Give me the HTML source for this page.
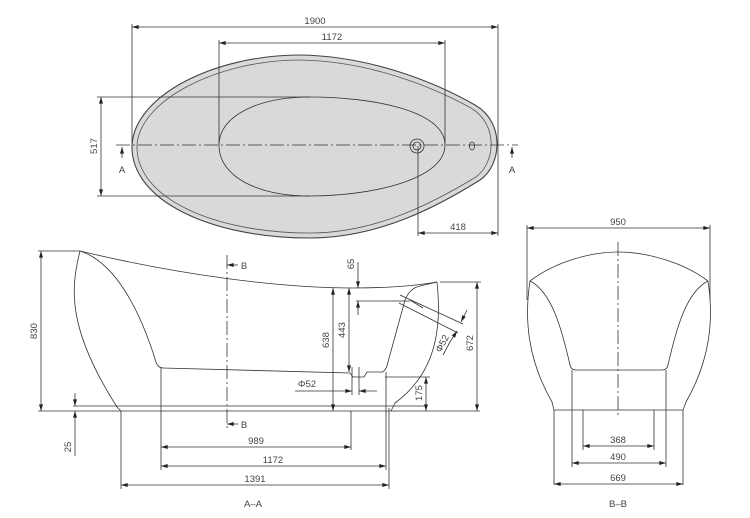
<!DOCTYPE html>
<html><head><meta charset="utf-8"><style>
html,body{margin:0;padding:0;background:#fff;}
svg{display:block;}
text{font-family:"Liberation Sans Narrow","Liberation Sans",sans-serif;font-size:9.5px;fill:#444;}
</style></head><body>
<svg width="750" height="518" viewBox="0 0 750 518" xmlns="http://www.w3.org/2000/svg">
<defs>
<marker id="a" viewBox="0 0 10 6" refX="10" refY="3" markerWidth="8" markerHeight="4" orient="auto-start-reverse" markerUnits="userSpaceOnUse"><path d="M0,0L10,3L0,6z" fill="#222"/></marker>
</defs>
<g stroke="#333" stroke-width="0.8" fill="none">
<!-- TOP VIEW -->
<path d="M132,145 C135,95 215,55 300,55 C370,56 435,82 475,105 C505,122 502,165 480,180 C440,205 380,238 310,238 C210,238 130,200 132,145 Z" fill="#d9d9d9" stroke="#444" stroke-width="1.1"/>
<path d="M137,145 C140,100 218,60 300,60 C368,61 431,86 471,108 C498,124 496,162 476,177 C436,201 378,233 310,233 C214,233 135,198 137,145 Z" fill="none" stroke="#555"/>
<path d="M219,145 C219,115 260,97 310,97 C370,97 445,110 445,145 C445,180 370,196 310,196 C260,196 219,178 219,145 Z" fill="#d9d9d9"/>
<circle cx="417" cy="146" r="7" fill="#d9d9d9"/><circle cx="417" cy="146" r="4"/>
<ellipse cx="472" cy="146" rx="2.5" ry="4"/>
<line x1="116" y1="145" x2="518" y2="145" stroke-dasharray="14,3,2,3"/>
<line x1="132" y1="24" x2="132" y2="145"/><line x1="498" y1="24" x2="498" y2="145"/>
<line x1="132" y1="27" x2="498" y2="27" marker-start="url(#a)" marker-end="url(#a)"/>
<line x1="219" y1="40" x2="219" y2="145"/><line x1="445" y1="40" x2="445" y2="145"/>
<line x1="219" y1="43" x2="445" y2="43" marker-start="url(#a)" marker-end="url(#a)"/>
<line x1="97" y1="97" x2="310" y2="97"/><line x1="97" y1="196" x2="310" y2="196"/>
<line x1="101" y1="97" x2="101" y2="196" marker-start="url(#a)" marker-end="url(#a)"/>
<line x1="418" y1="146" x2="418" y2="236"/><line x1="498" y1="145" x2="498" y2="236"/>
<line x1="418" y1="233" x2="498" y2="233" marker-start="url(#a)" marker-end="url(#a)"/>
<line x1="122" y1="158" x2="122" y2="147" marker-end="url(#a)"/>
<line x1="512" y1="158" x2="512" y2="147" marker-end="url(#a)"/>
<!-- SIDE VIEW A-A -->
<path d="M80,251 C70,290 68,330 117,407 L121,411"/>
<path d="M80,251 C115,262 140,310 156,362 Q158,368 163,368 L350,373 L353,377 L364,377 L367,372 L382,372 Q386,371 388,362 L405,300 Q410,288 420,286 L437,282"/>
<path d="M80,251 C180,275 280,288 353,288 C390,288 420,285 437,282"/>
<path d="M437,282 C441,320 440,370 395,403 L391,411"/>
<line x1="38" y1="411" x2="480" y2="411"/>
<line x1="73" y1="406" x2="427" y2="406"/>
<line x1="38" y1="251" x2="80" y2="251"/>
<line x1="41" y1="251" x2="41" y2="411" marker-start="url(#a)" marker-end="url(#a)"/>
<line x1="75" y1="393" x2="75" y2="406" marker-end="url(#a)"/>
<line x1="75" y1="424" x2="75" y2="411" marker-end="url(#a)"/>
<line x1="75" y1="424" x2="75" y2="456"/>
<line x1="227" y1="255" x2="227" y2="428" stroke-dasharray="14,3,2,3"/>
<line x1="238" y1="265" x2="227" y2="265" marker-end="url(#a)"/>
<line x1="238" y1="424" x2="227" y2="424" marker-end="url(#a)"/>
<line x1="161" y1="368" x2="161" y2="470"/>
<line x1="121" y1="411" x2="121" y2="489"/>
<line x1="389" y1="408" x2="389" y2="489"/>
<line x1="386" y1="372" x2="386" y2="470"/>
<line x1="351" y1="411" x2="351" y2="450"/>
<line x1="161" y1="447" x2="351" y2="447" marker-start="url(#a)" marker-end="url(#a)"/>
<line x1="161" y1="466" x2="386" y2="466" marker-start="url(#a)" marker-end="url(#a)"/>
<line x1="121" y1="485" x2="389" y2="485" marker-start="url(#a)" marker-end="url(#a)"/>
<line x1="358" y1="262" x2="358" y2="288" marker-end="url(#a)"/>
<line x1="358" y1="315" x2="358" y2="301" marker-end="url(#a)"/>
<line x1="356" y1="301" x2="410" y2="301"/>
<line x1="333" y1="288" x2="333" y2="411" marker-start="url(#a)" marker-end="url(#a)"/>
<line x1="349" y1="288" x2="349" y2="372" marker-start="url(#a)" marker-end="url(#a)"/>
<line x1="352" y1="367" x2="352" y2="395"/><line x1="359" y1="367" x2="359" y2="395"/>
<line x1="295" y1="391" x2="352" y2="391" marker-end="url(#a)"/>
<line x1="377" y1="391" x2="359" y2="391" marker-end="url(#a)"/>
<line x1="385" y1="377" x2="430" y2="377"/>
<line x1="426" y1="377" x2="426" y2="411" marker-start="url(#a)" marker-end="url(#a)"/>
<line x1="440" y1="282" x2="481" y2="282"/>
<line x1="477" y1="282" x2="477" y2="411" marker-start="url(#a)" marker-end="url(#a)"/>
<line x1="400" y1="295" x2="463" y2="324"/>
<line x1="399" y1="303" x2="458" y2="333"/>
<line x1="410" y1="300" x2="423" y2="308"/>
<line x1="467" y1="310" x2="461" y2="322" marker-end="url(#a)"/>
<line x1="450" y1="342" x2="457" y2="331" marker-end="url(#a)"/>
<line x1="443" y1="355" x2="450" y2="342"/>
<!-- B-B -->
<path d="M530,281 C555,262 590,252 618,252 C646,252 683,262 708,281"/>
<path d="M530,281 C524,320 528,360 552,402 L554,410 L554,485"/>
<path d="M708,281 C714,320 710,360 686,402 L683,410 L683,485"/>
<path d="M530,281 C552,292 562,330 570,365 Q571,370 576,370 L662,370 Q667,370 668,365 C676,330 686,292 708,281"/>
<line x1="554" y1="410" x2="683" y2="410"/>
<line x1="572" y1="370" x2="572" y2="467"/><line x1="666" y1="370" x2="666" y2="467"/>
<line x1="583" y1="410" x2="583" y2="450"/><line x1="654" y1="410" x2="654" y2="450"/>
<line x1="618" y1="242" x2="618" y2="415" stroke-dasharray="14,3,2,3"/>
<line x1="527" y1="225" x2="527" y2="300"/><line x1="710" y1="225" x2="710" y2="300"/>
<line x1="527" y1="228" x2="710" y2="228" marker-start="url(#a)" marker-end="url(#a)"/>
<line x1="583" y1="446" x2="654" y2="446" marker-start="url(#a)" marker-end="url(#a)"/>
<line x1="572" y1="463" x2="666" y2="463" marker-start="url(#a)" marker-end="url(#a)"/>
<line x1="554" y1="484" x2="683" y2="484" marker-start="url(#a)" marker-end="url(#a)"/>
</g>
<g>
<text x="315" y="24" text-anchor="middle">1900</text>
<text x="332" y="40" text-anchor="middle">1172</text>
<text x="97" y="146" text-anchor="middle" transform="rotate(-90 97 146)">517</text>
<text x="122" y="173" text-anchor="middle">A</text>
<text x="512" y="173" text-anchor="middle">A</text>
<text x="458" y="230" text-anchor="middle">418</text>
<text x="37" y="331" text-anchor="middle" transform="rotate(-90 37 331)">830</text>
<text x="71" y="447" text-anchor="middle" transform="rotate(-90 71 447)">25</text>
<text x="244" y="269" text-anchor="middle">B</text>
<text x="244" y="428" text-anchor="middle">B</text>
<text x="354" y="264" text-anchor="middle" transform="rotate(-90 354 264)">65</text>
<text x="329" y="340" text-anchor="middle" transform="rotate(-90 329 340)">638</text>
<text x="345" y="330" text-anchor="middle" transform="rotate(-90 345 330)">443</text>
<text x="307" y="387" text-anchor="middle">Φ52</text>
<text x="422" y="393" text-anchor="middle" transform="rotate(-90 422 393)">175</text>
<text x="473" y="343" text-anchor="middle" transform="rotate(-90 473 343)">672</text>
<text x="445" y="345" text-anchor="middle" transform="rotate(-62 445 345)">Φ52</text>
<text x="256" y="444" text-anchor="middle">989</text>
<text x="273" y="463" text-anchor="middle">1172</text>
<text x="255" y="482" text-anchor="middle">1391</text>
<text x="253" y="507" text-anchor="middle" font-size="11">A–A</text>
<text x="618" y="225" text-anchor="middle">950</text>
<text x="618" y="443" text-anchor="middle">368</text>
<text x="618" y="460" text-anchor="middle">490</text>
<text x="618" y="481" text-anchor="middle">669</text>
<text x="618" y="507" text-anchor="middle" font-size="11">B–B</text>
</g>
</svg>
</body></html>
